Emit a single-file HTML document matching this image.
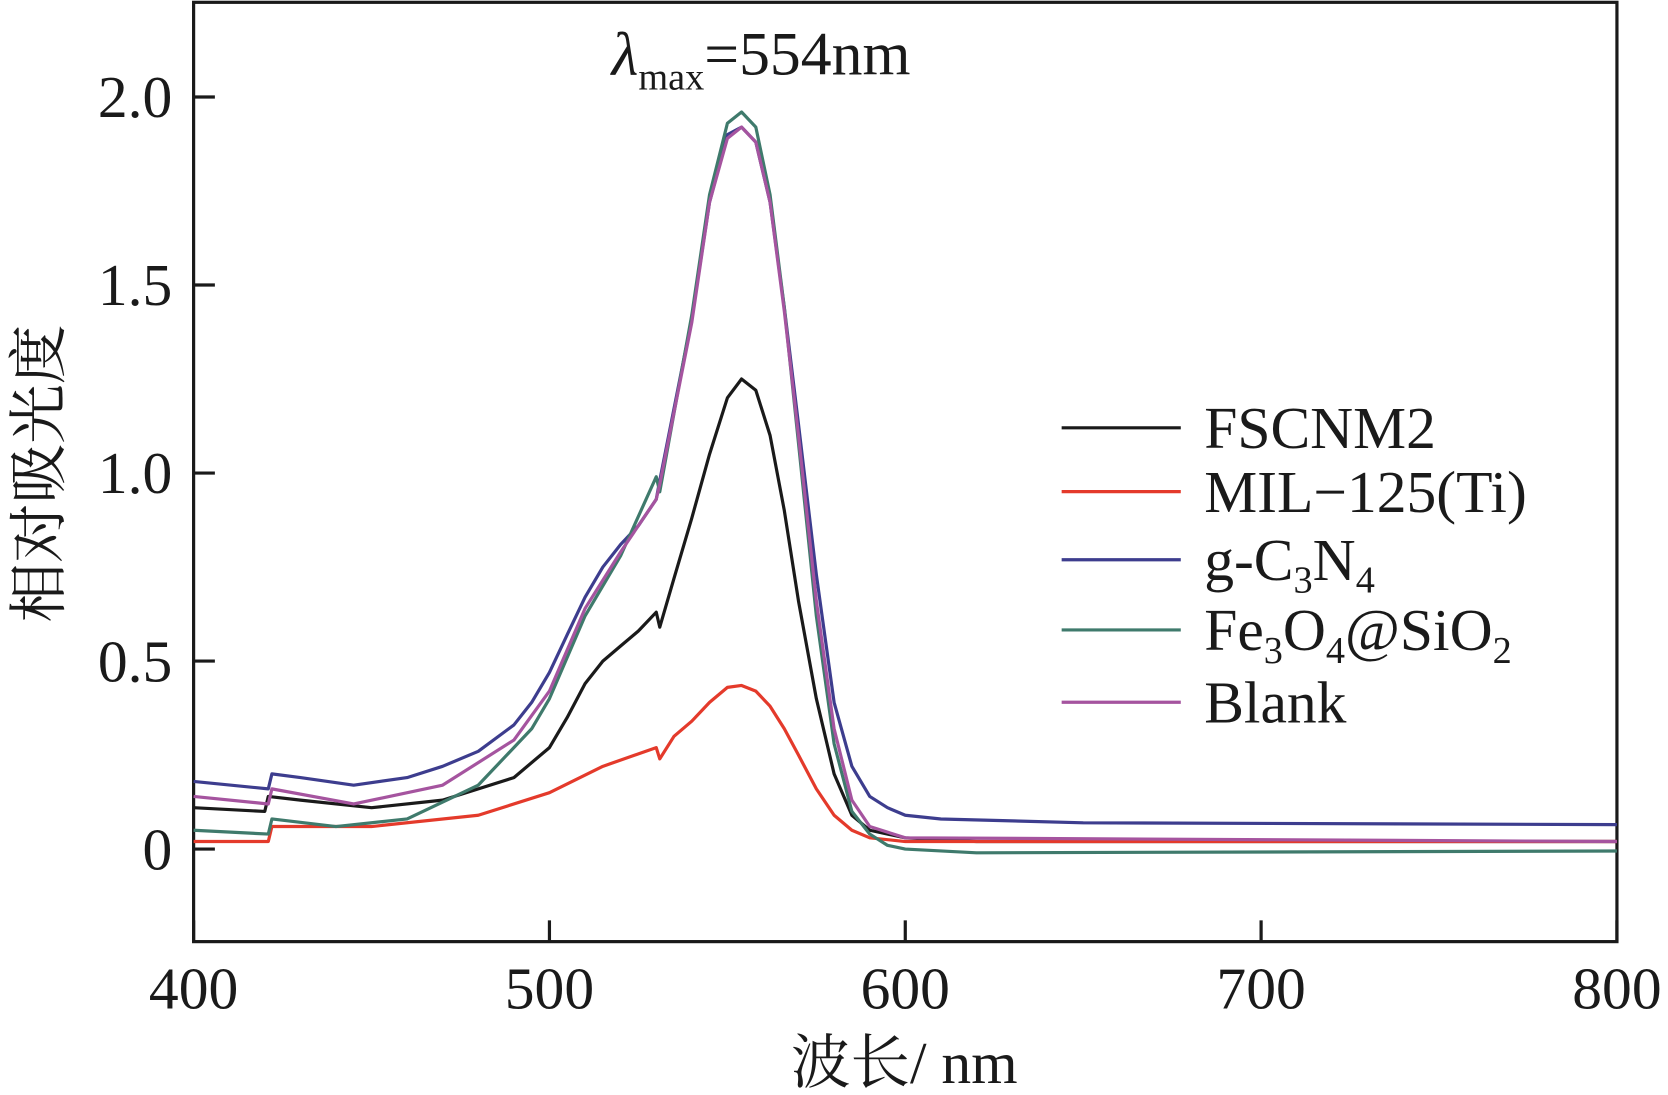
<!DOCTYPE html>
<html><head><meta charset="utf-8"><style>
html,body{margin:0;padding:0;background:#fff;}
svg{display:block;}
text{font-family:"Liberation Serif","Noto Serif CJK SC","Noto Sans CJK SC",serif;fill:#1a1a1a;}
</style></head><body>
<svg id="chart" width="1668" height="1095" viewBox="0 0 1568 1029" xmlns="http://www.w3.org/2000/svg">
<rect x="182" y="2" width="1338" height="883" fill="none" stroke="#1a1a1a" stroke-width="3"/>
<g id="ticks"></g>
<g id="series"></g>
<text x="575" y="70" font-size="58"><tspan font-style="italic">λ</tspan><tspan font-size="36" dy="14">max</tspan><tspan dy="-14">=554nm</tspan></text>
<text x="850" y="1018" font-size="56" text-anchor="middle">波长/ nm</text>
<text transform="translate(56,445) rotate(-90)" font-size="56" text-anchor="middle">相对吸光度</text>
<g id="legend"></g>
</svg>
<script>
const xTicks=[400,500,600,700,800];
const yTicks=[0,0.5,1.0,1.5,2.0];
const yTickLabels=["0","0.5","1.0","1.5","2.0"];
const seriesNames=["FSCNM2","MIL−125(Ti)","g-C3N4","Fe3O4@SiO2","Blank"];
const wlFSCNM2=[400,420,421,430,450,470,490,500,505,510,515,520,525,530,531,535,540,545,550,554,558,562,566,570,575,580,585,590,600,620,800];
const valFSCNM2=[0.11,0.10,0.14,0.13,0.11,0.13,0.19,0.27,0.35,0.44,0.50,0.54,0.58,0.63,0.59,0.72,0.88,1.05,1.20,1.25,1.22,1.10,0.90,0.66,0.40,0.20,0.09,0.05,0.03,0.02,0.02];
const wlMIL=[400,421,422,450,480,500,515,530,531,535,540,545,550,554,558,562,566,570,575,580,585,590,600,800];
const valMIL=[0.02,0.02,0.06,0.06,0.09,0.15,0.22,0.27,0.24,0.30,0.34,0.39,0.43,0.435,0.42,0.38,0.32,0.25,0.16,0.09,0.05,0.03,0.02,0.02];
const wlCN=[400,421,422,430,445,460,470,480,490,495,500,505,510,515,520,525,530,531,540,545,550,554,558,562,566,570,575,580,585,590,595,600,610,650,800];
const valCN=[0.18,0.16,0.20,0.19,0.17,0.19,0.22,0.26,0.33,0.39,0.47,0.57,0.67,0.75,0.81,0.86,0.93,0.98,1.41,1.72,1.90,1.92,1.88,1.72,1.44,1.13,0.73,0.39,0.22,0.14,0.11,0.09,0.08,0.07,0.065];
const wlFe=[400,421,422,440,460,480,495,500,510,520,530,531,540,545,550,554,558,562,566,570,575,580,585,590,595,600,620,800];
const valFe=[0.05,0.04,0.08,0.06,0.08,0.17,0.32,0.40,0.62,0.78,0.99,0.95,1.42,1.74,1.93,1.96,1.92,1.74,1.44,1.08,0.62,0.28,0.10,0.04,0.01,0.00,-0.01,-0.005];
const wlBlank=[400,421,422,445,470,490,500,510,520,530,531,540,545,550,554,558,562,566,570,575,580,585,590,600,800];
const valBlank=[0.14,0.12,0.16,0.12,0.17,0.29,0.42,0.64,0.79,0.93,0.97,1.40,1.72,1.89,1.92,1.88,1.72,1.43,1.10,0.66,0.32,0.13,0.06,0.03,0.02];
const colors=["#1a1a1a","#e43a2b","#3d3d8e","#3f7a6c","#a5549f"];
const NS="http://www.w3.org/2000/svg";
const xs=v=>182+(v-400)*(1338/400);
const ys=v=>798-v*353.5;
const tg=document.getElementById('ticks');
function mk(tag,attrs,parent){const e=document.createElementNS(NS,tag);for(const k in attrs)e.setAttribute(k,attrs[k]);parent.appendChild(e);return e;}
xTicks.forEach(v=>{
  const l=mk('line',{x1:xs(v),x2:xs(v),y1:885,y2:865,stroke:'#1a1a1a','stroke-width':3},tg);
  
  
  const t=mk('text',{x:xs(v),y:948,'font-size':56,'text-anchor':'middle'},tg);
  t.textContent=v;
  
  
});
yTicks.forEach((v,i)=>{
  const l=mk('line',{x1:182,x2:202,y1:ys(v),y2:ys(v),stroke:'#1a1a1a','stroke-width':3},tg);
  
  
  const t=mk('text',{x:162,y:ys(v)+19,'font-size':56,'text-anchor':'end'},tg);
  t.textContent=yTickLabels[i];
  
  
});
const sg=document.getElementById('series');
const data=[[wlFSCNM2,valFSCNM2],[wlMIL,valMIL],[wlCN,valCN],[wlFe,valFe],[wlBlank,valBlank]];
const ids=['fscnm2','mil-125','g-c3n4','fe3o4-sio2','blank'];
data.forEach((d,i)=>{
  const pts=d[0].map((w,j)=>xs(w).toFixed(1)+','+ys(d[1][j]).toFixed(1)).join(' ');
  const p=mk('polyline',{points:pts,fill:'none',stroke:colors[i],'stroke-width':3,'stroke-linejoin':'round'},sg);
  
  
});
const lg=document.getElementById('legend');
const rowsY=[402,462,526,592,660];
const labels=[
 'FSCNM2',
 'MIL−125(Ti)',
 'g-C<tspan font-size="36" dy="12">3</tspan><tspan dy="-12">N</tspan><tspan font-size="36" dy="12">4</tspan>',
 'Fe<tspan font-size="36" dy="12">3</tspan><tspan dy="-12">O</tspan><tspan font-size="36" dy="12">4</tspan><tspan dy="-12">@SiO</tspan><tspan font-size="36" dy="12">2</tspan>',
 'Blank'];
labels.forEach((s,i)=>{
  const l=mk('line',{x1:998,x2:1110,y1:rowsY[i],y2:rowsY[i],stroke:colors[i],'stroke-width':3},lg);
  
  
  const t=mk('text',{x:1132,y:rowsY[i]+19,'font-size':56},lg);
  t.innerHTML=s;
  
  
});
</script>
</body></html>
